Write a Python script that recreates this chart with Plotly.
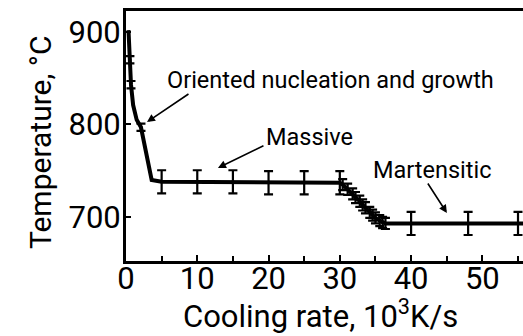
import plotly.graph_objects as go

# Transition temperature vs cooling rate (cooling rate in 10^3 K/s, temperature in °C)
curve_rate = [0.35, 0.55, 0.7, 1.0, 1.5, 2.1, 3.6, 5, 10, 15, 20, 25, 30,
              30.4, 31.1, 31.8, 32.2, 32.8, 33.2, 33.6, 34.2, 34.6, 35.0,
              35.6, 36.0, 36.4, 40, 48, 55, 56]
curve_temp = [902, 870, 843, 821, 805, 797, 740, 738, 738, 738, 737, 737, 737,
              735, 730, 725, 721, 717, 713, 710, 705, 702, 699,
              696, 694, 693, 693, 693, 693, 693]

# Measured points with their scatter
meas_rate = [0.55, 0.7, 2.1, 5, 10, 15, 20, 25, 30,
             30.4, 31.1, 31.8, 32.2, 32.8, 33.2, 33.6, 34.2, 34.6, 35.0,
             35.6, 36.0, 36.4, 40, 48, 55]
meas_temp = [870, 843, 797, 738, 738, 738, 737, 737, 737,
             735, 730, 725, 721, 717, 713, 710, 705, 702, 699,
             696, 694, 693, 693, 693, 693]
meas_err = [4, 4, 4, 12.5, 12.5, 12.5, 12.5, 12.5, 12.5,
            6, 6, 6, 6, 6, 6, 6, 6, 6, 6,
            6, 6, 6, 12.5, 12.5, 12.5]

x_ticks = [0, 10, 20, 30, 40, 50]
y_ticks = [700, 800, 900]

FONT = "Roboto"

fig = go.Figure()
fig.add_trace(go.Scatter(x=curve_rate, y=curve_temp, mode="lines",
                         line=dict(color="black", width=4), showlegend=False))
fig.add_trace(go.Scatter(x=meas_rate, y=meas_temp, mode="markers",
                         marker=dict(color="black", size=3),
                         error_y=dict(type="data", array=meas_err, visible=True,
                                      color="black", thickness=2.2, width=4.5),
                         showlegend=False))

# Regime labels with arrows
labels = [
    dict(text="Oriented nucleation and growth", x=28.7, y=848,
         tail=(190, 93), head=(147, 122)),
    dict(text="Massive", x=25.8, y=786.5, tail=(265, 145), head=(218, 168)),
    dict(text="Martensitic", x=43.0, y=751, tail=(427, 182), head=(447, 213)),
]

X0, PXU = 126, 7.13       # pixel of rate 0, pixels per unit rate
Y800, PYU = 124.5, 0.925  # pixel of 800 °C, pixels per degree


def to_data(px, py):
    return (px - X0) / PXU, 800 - (py - Y800) / PYU


for lab in labels:
    fig.add_annotation(x=lab["x"], y=lab["y"], text=lab["text"], showarrow=False,
                       font=dict(family=FONT, size=23.5, color="black"))
    hx, hy = to_data(*lab["head"])
    tx, ty = to_data(*lab["tail"])
    fig.add_annotation(x=hx, y=hy, ax=tx, ay=ty, axref="x", ayref="y",
                       text="", showarrow=True, arrowhead=2, arrowsize=1,
                       arrowwidth=1.6, arrowcolor="black", standoff=0)

fig.add_annotation(xref="paper", yref="paper", x=0, y=0.5, xshift=-86,
                   yshift=-6, xanchor="center", yanchor="middle",
                   text="Temperature, °C", textangle=-90, showarrow=False,
                   font=dict(family=FONT, size=30, color="black"))
fig.add_annotation(xref="paper", yref="paper", x=0.5, y=0, yshift=-53,
                   xshift=-4, xanchor="center", yanchor="middle",
                   text="Cooling rate, 10<sup>3</sup>K/s", showarrow=False,
                   font=dict(family=FONT, size=31, color="black"))

fig.update_xaxes(range=[0, 55.7], tickvals=x_ticks, ticks="inside", ticklen=6,
                 tickwidth=2, tickcolor="black", showline=True, linewidth=3,
                 linecolor="black", mirror=True, showgrid=False, zeroline=False,
                 ticklabelstandoff=-12,
                 tickfont=dict(family=FONT, size=31, color="black"),
                 minor=dict(dtick=5, tick0=0, ticks="inside", ticklen=5,
                            tickwidth=2, tickcolor="black", showgrid=False))
fig.update_yaxes(range=[652.4, 922.7], tickvals=y_ticks, ticks="inside",
                 ticklen=5, tickwidth=1.5, tickcolor="black", showline=True,
                 linewidth=3, linecolor="black", mirror=False, showgrid=False,
                 zeroline=False, ticklabelstandoff=-4,
                 tickfont=dict(family=FONT, size=31, color="black"))

fig.update_layout(width=523, height=336, margin=dict(l=126, r=0, t=11, b=75),
                  plot_bgcolor="white", paper_bgcolor="white",
                  font=dict(family=FONT, color="black"))

fig.write_html("out.html")
